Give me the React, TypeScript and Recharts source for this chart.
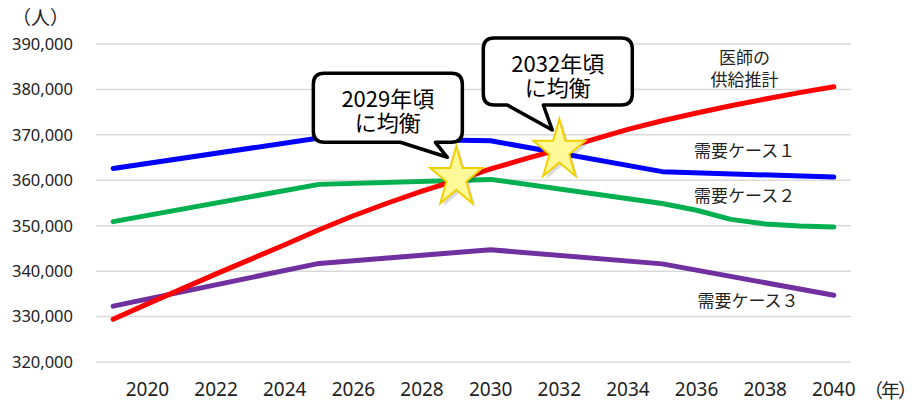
import React from 'react';
import { LineChart, Line, XAxis, YAxis, CartesianGrid, ReferenceDot } from 'recharts';

// 医師の供給推計 (annual)
const supplyYears = [2019, 2020, 2021, 2022, 2023, 2024, 2025, 2026, 2027, 2028, 2029, 2030, 2031, 2032, 2033, 2034, 2035, 2036, 2037, 2038, 2039, 2040];
const supply = [329400, 332800, 336100, 339400, 342600, 345800, 349100, 352200, 355000, 357600, 360000, 362500, 364700, 366800, 369000, 371200, 373100, 374800, 376400, 377900, 379300, 380600];

// 需要ケース
const case1Years = [2019, 2025, 2030, 2035, 2040];
const case1 = [362600, 369300, 368700, 361900, 360700];
const case2Years = [2019, 2025, 2030, 2035, 2036, 2037, 2038, 2039, 2040];
const case2 = [350900, 359100, 360200, 354900, 353400, 351400, 350400, 349950, 349700];
const case3Years = [2019, 2025, 2030, 2035, 2040];
const case3 = [332300, 341700, 344700, 341600, 334700];

const yTicks = [320000, 330000, 340000, 350000, 360000, 370000, 380000, 390000];
const xTicks = [2020, 2022, 2024, 2026, 2028, 2030, 2032, 2034, 2036, 2038, 2040];

// 均衡点
const balanceYears = [2029, 2032];
const balanceValues = [360000, 366000];
const balanceTexts = [['2029年頃', 'に均衡'], ['2032年頃', 'に均衡']];

const pick = (years: number[], values: number[], y: number) => {
  const i = years.indexOf(y);
  return i >= 0 ? values[i] : null;
};

const allYears = Array.from(new Set([...supplyYears, ...case1Years, ...case2Years, ...case3Years])).sort((a, b) => a - b);
const table = allYears.map((year) => ({
  year,
  supply: pick(supplyYears, supply, year),
  case1: pick(case1Years, case1, year),
  case2: pick(case2Years, case2, year),
  case3: pick(case3Years, case3, year),
}));

const JP = "'Noto Sans CJK JP', 'Noto Sans', sans-serif";
const TEXT = '#222';

const starPoints = (cx: number, cy: number) => {
  const w = 52, h = 57;
  const left = cx - 26, top = cy - 34;
  const pts: string[] = [];
  for (let k = 0; k < 10; k++) {
    const a = ((-90 + 36 * k) * Math.PI) / 180;
    const rad = k % 2 === 0 ? 1 : 0.382;
    const x = rad * Math.cos(a);
    const y = rad * Math.sin(a);
    const xn = (x + 0.951) / 1.902;
    const yn = (y + 1) / 1.809;
    pts.push(`${(left + xn * w).toFixed(1)},${(top + yn * h).toFixed(1)}`);
  }
  return pts.join(' ');
};

const Star = (props: any) => {
  const { cx, cy } = props;
  if (cx == null || cy == null) return null;
  return (
    <g>
      <polygon points={starPoints(cx + 3, cy + 3)} fill="#000" opacity={0.15} />
      <polygon points={starPoints(cx, cy)} fill="#FFF99A" stroke="#F2CF00" strokeWidth={2} strokeLinejoin="miter" />
    </g>
  );
};

const makeCallout = (lines: string[], box: { l: number; r: number; t: number; b: number; b1: number; b2: number; tx: number; ty: number }) => (props: any) => {
  const { cx, cy } = props;
  if (cx == null || cy == null) return null;
  const L = cx + box.l, R = cx + box.r, T = cy + box.t, B = cy + box.b;
  const rd = 11;
  const d = [
    `M${L + rd},${T}`,
    `H${R - rd}`,
    `Q${R},${T} ${R},${T + rd}`,
    `V${B - rd}`,
    `Q${R},${B} ${R - rd},${B}`,
    `H${cx + box.b2}`,
    `L${cx + box.tx},${cy + box.ty}`,
    `L${cx + box.b1},${B}`,
    `H${L + rd}`,
    `Q${L},${B} ${L},${B - rd}`,
    `V${T + rd}`,
    `Q${L},${T} ${L + rd},${T}`,
    'Z',
  ].join(' ');
  const mx = (L + R) / 2;
  return (
    <g>
      <path d={d} fill="#fff" stroke="#000" strokeWidth={3.5} strokeLinejoin="round" />
      <text x={mx} y={T + 24} textAnchor="middle" dominantBaseline="central" fontSize={22} fontFamily={JP} fill="#000">
        <tspan x={mx} y={T + 24}>{lines[0]}</tspan>
        <tspan x={mx} y={T + 48}>{lines[1]}</tspan>
      </text>
    </g>
  );
};

const makeLabel = (lines: string[]) => (props: any) => {
  const { cx, cy } = props;
  if (cx == null || cy == null) return null;
  return (
    <text x={cx} y={cy} textAnchor="middle" dominantBaseline="central" fontSize={17} fontFamily={JP} fill={TEXT}>
      {lines.map((s, i) => (
        <tspan key={i} x={cx} y={cy + i * 22}>
          {s}
        </tspan>
      ))}
    </text>
  );
};

const callout1 = makeCallout(balanceTexts[0], { l: -143, r: 6, t: -107, b: -38, b1: -56, b2: -21, tx: -9, ty: -23 });
const callout2 = makeCallout(balanceTexts[1], { l: -76, r: 73, t: -115, b: -48, b1: -52, b2: -16, tx: -7, ty: -23 });

export default function App() {
  return (
    <div style={{ position: 'absolute', left: 0, top: 0, width: 916, height: 404, background: '#fff', overflow: 'hidden' }}>
      <LineChart width={916} height={404} data={table} margin={{ top: 44, right: 65, bottom: 0, left: 0 }}>
        <CartesianGrid horizontal vertical={false} stroke="#D9D9D9" strokeWidth={1.5} />
        <XAxis
          dataKey="year"
          type="number"
          domain={[2018.5, 2040.5]}
          ticks={xTicks}
          axisLine={false}
          tickLine={false}
          tickSize={0}
          tickMargin={21}
          height={42}
          tick={{ fill: TEXT, fontSize: 19, fontFamily: "'Noto Sans', sans-serif" }}
        />
        <YAxis
          type="number"
          domain={[320000, 390000]}
          ticks={yTicks}
          axisLine={false}
          tickLine={false}
          tickSize={0}
          tickMargin={23}
          width={96}
          tickFormatter={(v: number) => v.toLocaleString('en-US')}
          tick={{ fill: TEXT, fontSize: 16.5, fontFamily: "'Noto Sans', sans-serif" }}
        />
        <Line dataKey="case1" stroke="#0000FF" strokeWidth={5} dot={false} connectNulls isAnimationActive={false} strokeLinecap="round" strokeLinejoin="round" />
        <Line dataKey="case2" stroke="#00B050" strokeWidth={5} dot={false} connectNulls isAnimationActive={false} strokeLinecap="round" strokeLinejoin="round" />
        <Line dataKey="case3" stroke="#7030A0" strokeWidth={5} dot={false} connectNulls isAnimationActive={false} strokeLinecap="round" strokeLinejoin="round" />
        <Line dataKey="supply" stroke="#FF0000" strokeWidth={5} dot={false} connectNulls isAnimationActive={false} strokeLinecap="round" strokeLinejoin="round" />

        <ReferenceDot x={2037.4} y={387350} shape={makeLabel(['医師の', '供給推計'])} />
        <ReferenceDot x={2037.4} y={366900} shape={makeLabel(['需要ケース１'])} />
        <ReferenceDot x={2037.4} y={357000} shape={makeLabel(['需要ケース２'])} />
        <ReferenceDot x={2037.5} y={333900} shape={makeLabel(['需要ケース３'])} />

        <ReferenceDot x={balanceYears[0]} y={balanceValues[0]} shape={callout1} />
        <ReferenceDot x={balanceYears[1]} y={balanceValues[1]} shape={callout2} />
        <ReferenceDot x={balanceYears[0]} y={balanceValues[0]} shape={Star} />
        <ReferenceDot x={balanceYears[1]} y={balanceValues[1]} shape={Star} />
      </LineChart>
      <div style={{ position: 'absolute', left: 12, top: 7, width: 57, height: 19, lineHeight: '19px', fontSize: 19, fontFamily: JP, color: TEXT, textAlign: 'center', whiteSpace: 'nowrap' }}>
        （人）
      </div>
      <div style={{ position: 'absolute', left: 864, top: 380, width: 51, height: 19, lineHeight: '19px', fontSize: 19, letterSpacing: '-2px', fontFamily: JP, color: TEXT, textAlign: 'left', whiteSpace: 'nowrap' }}>
        （年）
      </div>
    </div>
  );
}
